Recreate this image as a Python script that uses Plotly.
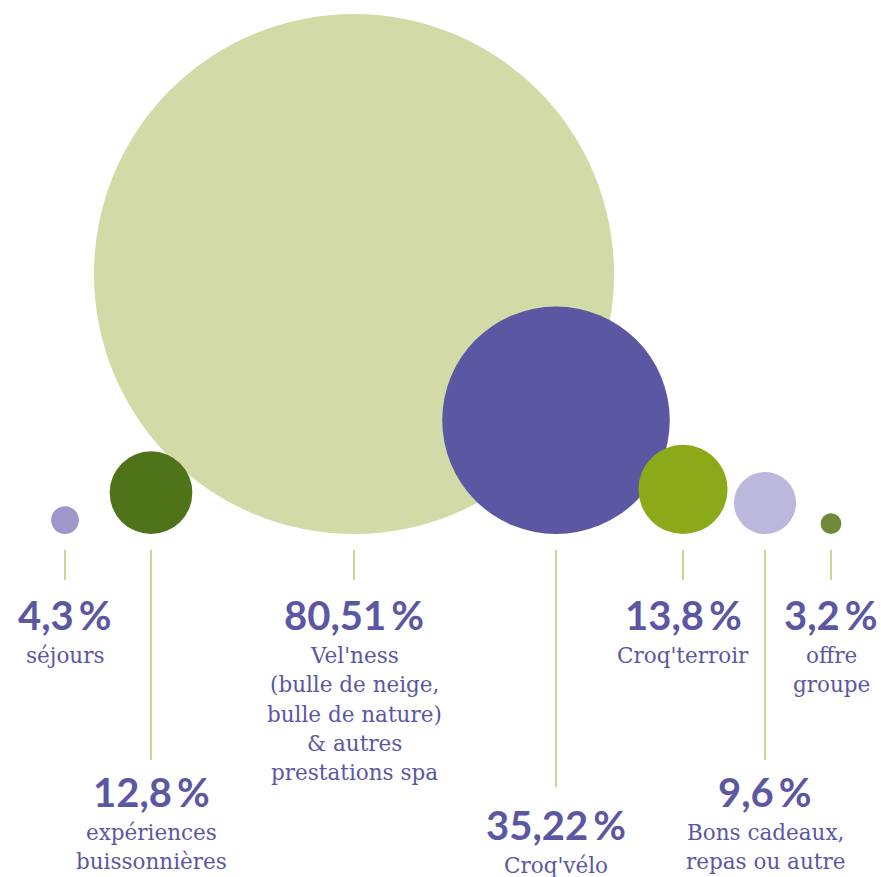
import plotly.graph_objects as go

# ---------------- data ----------------
categories = ["séjours", "expériences buissonnières", "Vel'ness & autres prestations spa",
              "Croq'vélo", "Croq'terroir", "Bons cadeaux, repas ou autre", "offre groupe"]
values = [4.3, 12.8, 80.51, 35.22, 13.8, 9.6, 3.2]
pct_labels = ["4,3\u2009%", "12,8\u2009%", "80,51\u2009%", "35,22\u2009%",
              "13,8\u2009%", "9,6\u2009%", "3,2\u2009%"]
desc_lines = [
    ["séjours"],
    ["expériences", "buissonnières"],
    ["Vel'ness", "(bulle de neige,", "bulle de nature)", "& autres", "prestations spa"],
    ["Croq'vélo"],
    ["Croq'terroir"],
    ["Bons cadeaux,", "repas ou autre"],
    ["offre", "groupe"],
]

# ---------------- layout / style ----------------
W, H = 881, 877
x_pos = [65, 151, 354, 556, 683, 765, 831]          # horizontal placement of each bubble
tiers = [0, 1, 0, 2, 0, 1, 0]                       # label row for each bubble
colors = ["#9d98c9", "#4f7318", "#d2dba8", "#5b57a3", "#8ba918", "#bcb8dd", "#6f8b3a"]
text_color = "#5b57a3"
line_color = "#a9bb45"

px_per_unit = 6.46      # pixels per percentage point (bubble diameter)
base_px = 534           # pixel row where all bubbles rest
line_top_px = 550
line_end_px = {0: 580, 1: 760, 2: 787}
pct_baseline_px = {0: 630, 1: 807, 2: 840}
desc_gap = 33
desc_spacing = 29.3
pct_size = 40
desc_size = 21.5

y_min = -(H - base_px) / px_per_unit
y_max = base_px / px_per_unit

def paper_y(px):
    return 1 - px / H

fig = go.Figure()

# draw largest first so smaller bubbles sit on top
order = sorted(range(len(values)), key=lambda i: -values[i])
for i in order:
    fig.add_trace(go.Scatter(
        x=[x_pos[i]], y=[values[i] / 2],
        mode="markers",
        marker=dict(size=[values[i]], sizemode="diameter", sizeref=1 / px_per_unit,
                    color=colors[i], line=dict(width=0), opacity=1),
        hovertext=[f"{categories[i]}: {pct_labels[i]}"], hoverinfo="text",
        cliponaxis=False, showlegend=False,
    ))

shapes = []
annotations = []
for i in range(len(values)):
    t = tiers[i]
    shapes.append(dict(type="line", xref="x", yref="paper",
                       x0=x_pos[i], x1=x_pos[i],
                       y0=paper_y(line_top_px), y1=paper_y(line_end_px[t]),
                       line=dict(color=line_color, width=1.2)))
    b = pct_baseline_px[t]
    annotations.append(dict(
        x=x_pos[i], y=paper_y(b - 15), xref="x", yref="paper",
        text=f"<b>{pct_labels[i]}</b>", showarrow=False,
        xanchor="center", yanchor="middle",
        font=dict(family="Lato, Inter, sans-serif", size=pct_size, color=text_color, weight=900),
    ))
    for k, line in enumerate(desc_lines[i]):
        lb = b + desc_gap + k * desc_spacing
        annotations.append(dict(
            x=x_pos[i], y=paper_y(lb - 7.5), xref="x", yref="paper",
            text=line, showarrow=False, xanchor="center", yanchor="middle",
            font=dict(family="DejaVu Serif, serif", size=desc_size, color=text_color),
        ))

fig.update_layout(
    width=W, height=H,
    margin=dict(l=0, r=0, t=0, b=0),
    paper_bgcolor="white", plot_bgcolor="white",
    xaxis=dict(range=[0, W], visible=False, fixedrange=True),
    yaxis=dict(range=[y_min, y_max], visible=False, fixedrange=True),
    shapes=shapes, annotations=annotations,
    showlegend=False,
)

fig.write_html("out.html", config={"displayModeBar": False},
               post_script="document.body.style.margin='0';document.body.style.overflow='hidden';")
